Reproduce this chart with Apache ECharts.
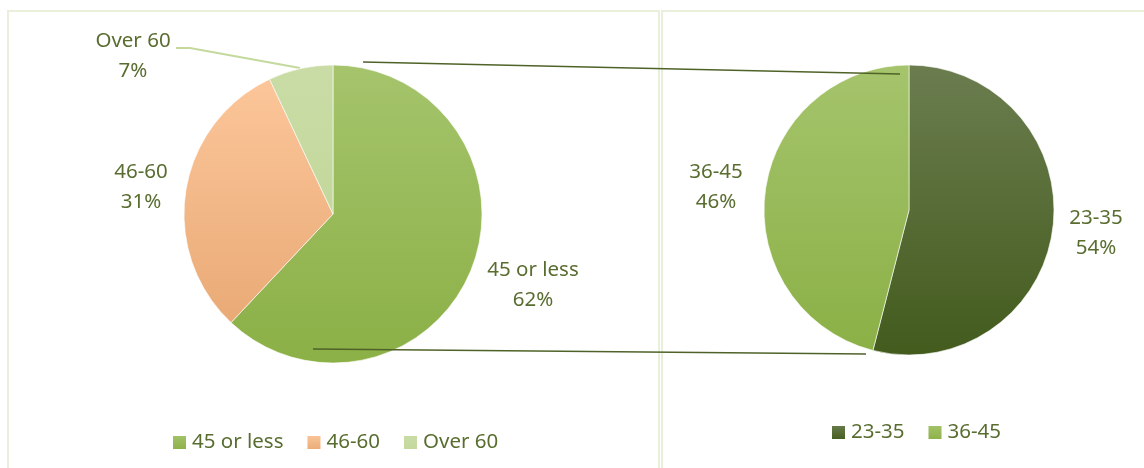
<!DOCTYPE html>
<html>
<head>
<meta charset="utf-8">
<script src="https://cdn.jsdelivr.net/npm/echarts@6/dist/echarts.min.js"></script>
<style>html,body{margin:0;padding:0;background:#fff}#c{width:1144px;height:468px}</style>
</head>
<body>
<div id="c"></div>
<script>
// Data
const mainCategories = ['45 or less', '46-60', 'Over 60'];
const mainValues = [62, 31, 7];
const subCategories = ['23-35', '36-45'];
const subValues = [54, 46];

const TXT = '#596d30';
const FONT = 'Noto Sans';
const FS = 20.5;
function grad(a, b) {
  return new echarts.graphic.LinearGradient(0, 0, 0, 1, [{offset: 0, color: a}, {offset: 1, color: b}]);
}
const mainColors = [grad('#a5c46c', '#8bb046'), grad('#fcc69a', '#e9aa76'), grad('#cadca6', '#c3d89c')];
const subColors = [grad('#6b7d4f', '#435b1d'), grad('#a5c46c', '#8bb046')];

// label anchor positions (layout only)
const mainLabelPos = [[533, 285], [141, 187], [133, 56]];
const subLabelPos = [[1096, 233], [716, 187]];

const L = {cx: 333, cy: 214, r: 149};
const R = {cx: 909, cy: 210, r: 145};

const chart = echarts.init(document.getElementById('c'), null, {renderer: 'canvas'});
chart.setOption({
  animation: false,
  textStyle: {fontFamily: FONT},
  graphic: [
    {type: 'rect', shape: {x: 8, y: 11, width: 651, height: 480}, style: {fill: 'none', stroke: '#e8efda', lineWidth: 2}, z: -10},
    {type: 'rect', shape: {x: 662, y: 11, width: 500, height: 480}, style: {fill: 'none', stroke: '#e8efda', lineWidth: 2}, z: -10},
    {type: 'line', shape: {x1: L.cx + 30, y1: L.cy - L.r - 3, x2: R.cx - 9, y2: R.cy - R.r + 9}, style: {stroke: '#4f6228', lineWidth: 1.3}, z: 20},
    {type: 'line', shape: {x1: L.cx - 20, y1: L.cy + L.r - 14, x2: R.cx - 43, y2: R.cy + R.r - 1}, style: {stroke: '#4f6228', lineWidth: 1.3}, z: 20}
  ],
  legend: [
    {data: mainCategories, left: 171, top: 432, padding: 0, icon: 'rect', itemWidth: 15, itemHeight: 15, itemGap: 22,
     textStyle: {color: TXT, fontSize: FS, fontFamily: FONT}},
    {data: subCategories, left: 830, top: 422, padding: 0, icon: 'rect', itemWidth: 15, itemHeight: 15, itemGap: 22,
     textStyle: {color: TXT, fontSize: FS, fontFamily: FONT}}
  ],
  series: [
    {
      type: 'pie', center: [L.cx, L.cy], radius: L.r, startAngle: 90, clockwise: true,
      itemStyle: {borderColor: '#fff', borderWidth: 0.6},
      label: {show: true, formatter: '{b}\n{c}%', color: TXT, fontSize: FS, lineHeight: 30, fontFamily: FONT, overflow: 'none'},
      labelLine: {show: true, lineStyle: {color: '#c5d99f', width: 2}},
      labelLayout: function (p) {
        const pos = mainLabelPos[p.dataIndex];
        const o = {x: pos[0], y: pos[1], align: 'center', verticalAlign: 'middle'};
        if (p.dataIndex === 2) o.labelLinePoints = [[300, 68], [190, 48], [176, 48]];
        return o;
      },
      data: mainCategories.map((n, i) => ({
        name: n, value: mainValues[i], itemStyle: {color: mainColors[i]},
        labelLine: {show: i === 2}
      }))
    },
    {
      type: 'pie', center: [R.cx, R.cy], radius: R.r, startAngle: 90, clockwise: true,
      itemStyle: {borderColor: '#fff', borderWidth: 0.6},
      label: {show: true, formatter: '{b}\n{c}%', color: TXT, fontSize: FS, lineHeight: 30, fontFamily: FONT, overflow: 'none'},
      labelLine: {show: false},
      labelLayout: function (p) {
        const pos = subLabelPos[p.dataIndex];
        return {x: pos[0], y: pos[1], align: 'center', verticalAlign: 'middle'};
      },
      data: subCategories.map((n, i) => ({name: n, value: subValues[i], itemStyle: {color: subColors[i]}}))
    }
  ]
});
</script>
</body>
</html>
